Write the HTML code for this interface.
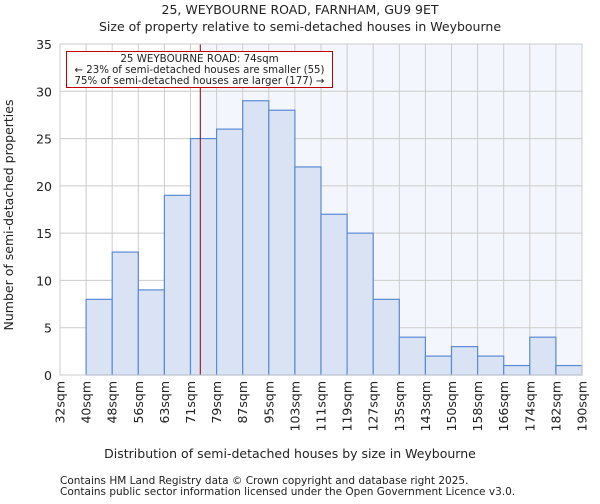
<!DOCTYPE html>
<html><head><meta charset="utf-8"><style>
body{margin:0;background:#fff;font-family:"DejaVu Sans","Liberation Sans",sans-serif;}
svg text{font-family:"DejaVu Sans","Liberation Sans",sans-serif;fill:#222;}
</style></head><body>
<svg id="c" width="600" height="500"></svg>
<script>
const labels=["32sqm","40sqm","48sqm","56sqm","63sqm","71sqm","79sqm","87sqm","95sqm","103sqm","111sqm","119sqm","127sqm","135sqm","143sqm","150sqm","158sqm","166sqm","174sqm","182sqm","190sqm"];
const counts=[0,8,13,9,19,25,26,29,28,22,17,15,8,4,2,3,2,1,4,1];
const yTicks=[0,5,10,15,20,25,30,35];
const marker=74;
const ns="http://www.w3.org/2000/svg";
const svg=document.getElementById("c");
const L=60,R=582,T=44,B=375,yMax=35,nb=counts.length,bw=(R-L)/nb;
const xb=i=>L+i*bw;
const y=v=>B-(v/yMax)*(B-T);
function mk(t,a,p){const e=document.createElementNS(ns,t);for(const k in a)e.setAttribute(k,a[k]);(p||svg).appendChild(e);return e;}
const mIdx=5+(marker-71)/(79-71);const mx=xb(mIdx);
const bg=mk("rect",{x:mx,y:T,width:R-mx,height:B-T,fill:"#f3f6fd"});


yTicks.forEach(v=>{const g=mk("line",{x1:L,x2:R,y1:y(v),y2:y(v),stroke:"#cccccc"});


const t=mk("text",{x:L-8,y:y(v)+5,"text-anchor":"end","font-size":12.5});t.textContent=v;

});
labels.forEach((s,i)=>{const g=mk("line",{x1:xb(i),x2:xb(i),y1:T,y2:B,stroke:"#cccccc"});


const t=mk("text",{x:0,y:0,"text-anchor":"end","font-size":12.5,transform:`translate(${xb(i)+4.5},${B+6}) rotate(-90)`});t.textContent=s;

});
counts.forEach((v,i)=>{if(v<=0)return;const r=mk("rect",{x:xb(i),y:y(v),width:bw,height:B-y(v),fill:"#d9e3f4",stroke:"#5b8bd5","stroke-width":1.2});

});
const ml=mk("line",{x1:mx,x2:mx,y1:T,y2:B,stroke:"#900000","stroke-width":1});


mk("rect",{x:L,y:T,width:R-L,height:B-T,fill:"none",stroke:"#cccccc"});
const ab=mk("rect",{x:66.5,y:51.5,width:266,height:36,fill:"#fff",stroke:"#c00000"});


[["25 WEYBOURNE ROAD: 74sqm",62],["← 23% of semi-detached houses are smaller (55)",73],["75% of semi-detached houses are larger (177) →",84]].forEach(([s,yy])=>{const t=mk("text",{x:199.5,y:yy,"text-anchor":"middle","font-size":10.3,textLength:250,lengthAdjust:"spacingAndGlyphs"});t.textContent=s;
if(yy===62){t.removeAttribute("textLength");}

});
</script>
<svg width="600" height="500" style="position:absolute;left:0;top:0">
<text x="300" y="14" text-anchor="middle" font-size="12.5">25, WEYBOURNE ROAD, FARNHAM, GU9 9ET</text>
<text x="300" y="31" text-anchor="middle" font-size="12.5">Size of property relative to semi-detached houses in Weybourne</text>
<text x="290" y="458" text-anchor="middle" font-size="12.5">Distribution of semi-detached houses by size in Weybourne</text>
<text transform="translate(13,215) rotate(-90)" text-anchor="middle" font-size="12.5">Number of semi-detached properties</text>
<text x="60" y="484" font-size="10.5" fill="#444">Contains HM Land Registry data © Crown copyright and database right 2025.</text>
<text x="60" y="495" font-size="10.5" fill="#444">Contains public sector information licensed under the Open Government Licence v3.0.</text>
</svg>
</body></html>
